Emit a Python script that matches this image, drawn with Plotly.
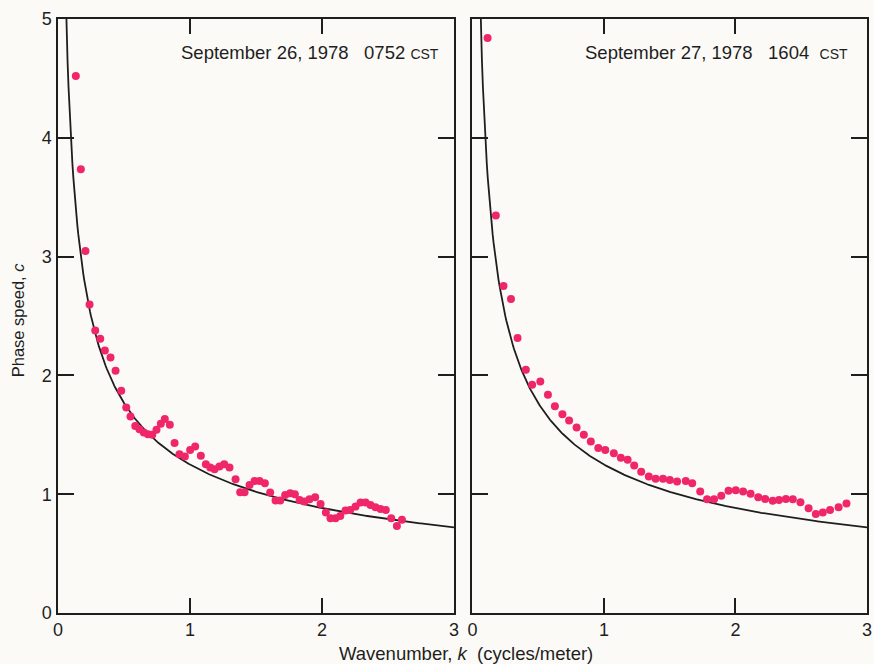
import numpy as np
import plotly.graph_objects as go

# Observed phase speeds, Sept 26 1978 0752 CST
k_sep26 = [0.135, 0.173, 0.208, 0.239, 0.282, 0.320, 0.355, 0.398, 0.436, 0.479,
           0.517, 0.549, 0.585, 0.617, 0.650, 0.681, 0.714, 0.746, 0.779, 0.809,
           0.847, 0.883, 0.920, 0.961, 1.001, 1.039, 1.082, 1.120, 1.153, 1.186,
           1.223, 1.259, 1.299, 1.345, 1.380, 1.413, 1.451, 1.489, 1.527, 1.567,
           1.607, 1.648, 1.683, 1.721, 1.759, 1.794, 1.830, 1.867, 1.905, 1.948,
           1.989, 2.029, 2.064, 2.102, 2.138, 2.178, 2.213, 2.254, 2.292, 2.330,
           2.367, 2.405, 2.443, 2.483, 2.524, 2.567, 2.605]
c_sep26 = [4.52, 3.735, 3.047, 2.597, 2.378, 2.308, 2.21, 2.151, 2.039, 1.870,
           1.730, 1.654, 1.575, 1.547, 1.519, 1.505, 1.500, 1.542, 1.592, 1.634,
           1.584, 1.430, 1.337, 1.317, 1.373, 1.401, 1.323, 1.253, 1.224, 1.211,
           1.233, 1.253, 1.224, 1.126, 1.017, 1.017, 1.078, 1.112, 1.112, 1.093,
           1.014, 0.946, 0.946, 0.994, 1.008, 1.000, 0.952, 0.938, 0.958, 0.975,
           0.918, 0.845, 0.798, 0.798, 0.817, 0.862, 0.868, 0.896, 0.930, 0.930,
           0.910, 0.890, 0.876, 0.868, 0.798, 0.733, 0.784]

# Observed phase speeds, Sept 27 1978 1604 CST
k_sep27 = [0.115, 0.178, 0.236, 0.293, 0.343, 0.406, 0.454, 0.516, 0.574, 0.627,
           0.684, 0.735, 0.792, 0.847, 0.900, 0.957, 1.010, 1.075, 1.128, 1.180,
           1.230, 1.283, 1.341, 1.393, 1.449, 1.501, 1.556, 1.622, 1.671, 1.732,
           1.784, 1.837, 1.892, 1.947, 2.002, 2.058, 2.115, 2.173, 2.226, 2.283,
           2.331, 2.383, 2.436, 2.494, 2.556, 2.611, 2.664, 2.719, 2.784, 2.844]
c_sep27 = [4.84, 3.347, 2.752, 2.643, 2.314, 2.047, 1.921, 1.949, 1.837, 1.741,
           1.674, 1.620, 1.561, 1.500, 1.443, 1.388, 1.373, 1.345, 1.306, 1.289,
           1.241, 1.190, 1.148, 1.129, 1.129, 1.120, 1.106, 1.112, 1.093, 1.022,
           0.958, 0.958, 0.986, 1.028, 1.034, 1.022, 1.003, 0.975, 0.960, 0.944,
           0.952, 0.960, 0.958, 0.932, 0.882, 0.834, 0.845, 0.868, 0.890, 0.921]

panel_titles = ["September 26, 1978&nbsp;&nbsp; 0752 <span style='font-size:14px'>CST</span>",
                "September 27, 1978&nbsp;&nbsp; 1604&nbsp; <span style='font-size:14px'>CST</span>"]
x_ticks = [0, 1, 2, 3]
y_ticks = [0, 1, 2, 3, 4, 5]

# Deep-water dispersion relation: c = sqrt(g / (2*pi*k)), k in cycles/meter
g = 9.81
k_theory = np.linspace(0.05, 3.0, 400)
c_theory = np.sqrt(g / (2 * np.pi * k_theory))

DOT = "#f0266a"
INK = "#1e1e1e"
BG = "#fcfaf6"
FONT = "Liberation Sans, Arial, Helvetica"

fig = go.Figure()
for i, (kk, cc) in enumerate([(k_sep26, c_sep26), (k_sep27, c_sep27)]):
    xa = "x" if i == 0 else "x2"
    ya = "y" if i == 0 else "y2"
    fig.add_trace(go.Scatter(x=k_theory, y=c_theory, mode="lines",
                             line=dict(color=INK, width=1.8),
                             xaxis=xa, yaxis=ya, showlegend=False))
    fig.add_trace(go.Scatter(x=kk, y=cc, mode="markers",
                             marker=dict(color=DOT, size=8, line=dict(width=0)),
                             xaxis=xa, yaxis=ya, showlegend=False))

W, H = 874, 664
ml, mr, mt, mb = 58, 2, 19, 51
pw = W - ml - mr

def px(xpix):
    return (xpix - ml) / pw

def py(ypix):
    return (H - mb - ypix) / (H - mt - mb)

axis_common = dict(range=[0, 3], tickvals=x_ticks, ticks="inside", ticklen=15,
                   tickwidth=1.5, tickcolor=INK, showline=True, linecolor=INK,
                   linewidth=1.5, mirror="ticks", showgrid=False, zeroline=False,
                   tickfont=dict(size=18, color=INK, family=FONT),
                   ticklabelstandoff=0, fixedrange=True)
yaxis_common = dict(range=[0, 5], tickvals=y_ticks, ticks="inside", ticklen=16,
                    tickwidth=1.5, tickcolor=INK, showline=True, linecolor=INK,
                    linewidth=1.5, mirror="ticks", showgrid=False, zeroline=False,
                    tickfont=dict(size=18, color=INK, family=FONT),
                    fixedrange=True)

fig.update_layout(
    width=W, height=H,
    margin=dict(l=ml, r=mr, t=mt, b=mb),
    paper_bgcolor=BG, plot_bgcolor=BG,
    font=dict(family=FONT, color=INK),
    xaxis=dict(domain=[0, px(456.5)], anchor="y", **axis_common),
    xaxis2=dict(domain=[px(475), 1.0], anchor="y2", **axis_common),
    yaxis=dict(domain=[0, 1], anchor="x", ticklabelstandoff=1, **yaxis_common),
    yaxis2=dict(domain=[0, 1], anchor="x2", showticklabels=False, **yaxis_common),
    annotations=[
        dict(text=panel_titles[0], x=px(443), y=py(52), xref="paper", yref="paper",
             xanchor="right", yanchor="middle", showarrow=False,
             font=dict(size=18.5, color=INK)),
        dict(text=panel_titles[1], x=px(855), y=py(52), xref="paper", yref="paper",
             xanchor="right", yanchor="middle", showarrow=False,
             font=dict(size=18.5, color=INK)),
        dict(text="Phase speed, <i>c</i>", x=px(18), y=py(320), xref="paper", yref="paper",
             xanchor="center", yanchor="middle", textangle=-90, showarrow=False,
             font=dict(size=16.5, color=INK)),
        dict(text="Wavenumber, <i>k</i>&nbsp; (cycles/meter)", x=px(469), y=py(653),
             xref="paper", yref="paper", xanchor="center", yanchor="middle",
             showarrow=False, font=dict(size=18.5, color=INK)),
    ],
)

fig.write_html("out.html")
